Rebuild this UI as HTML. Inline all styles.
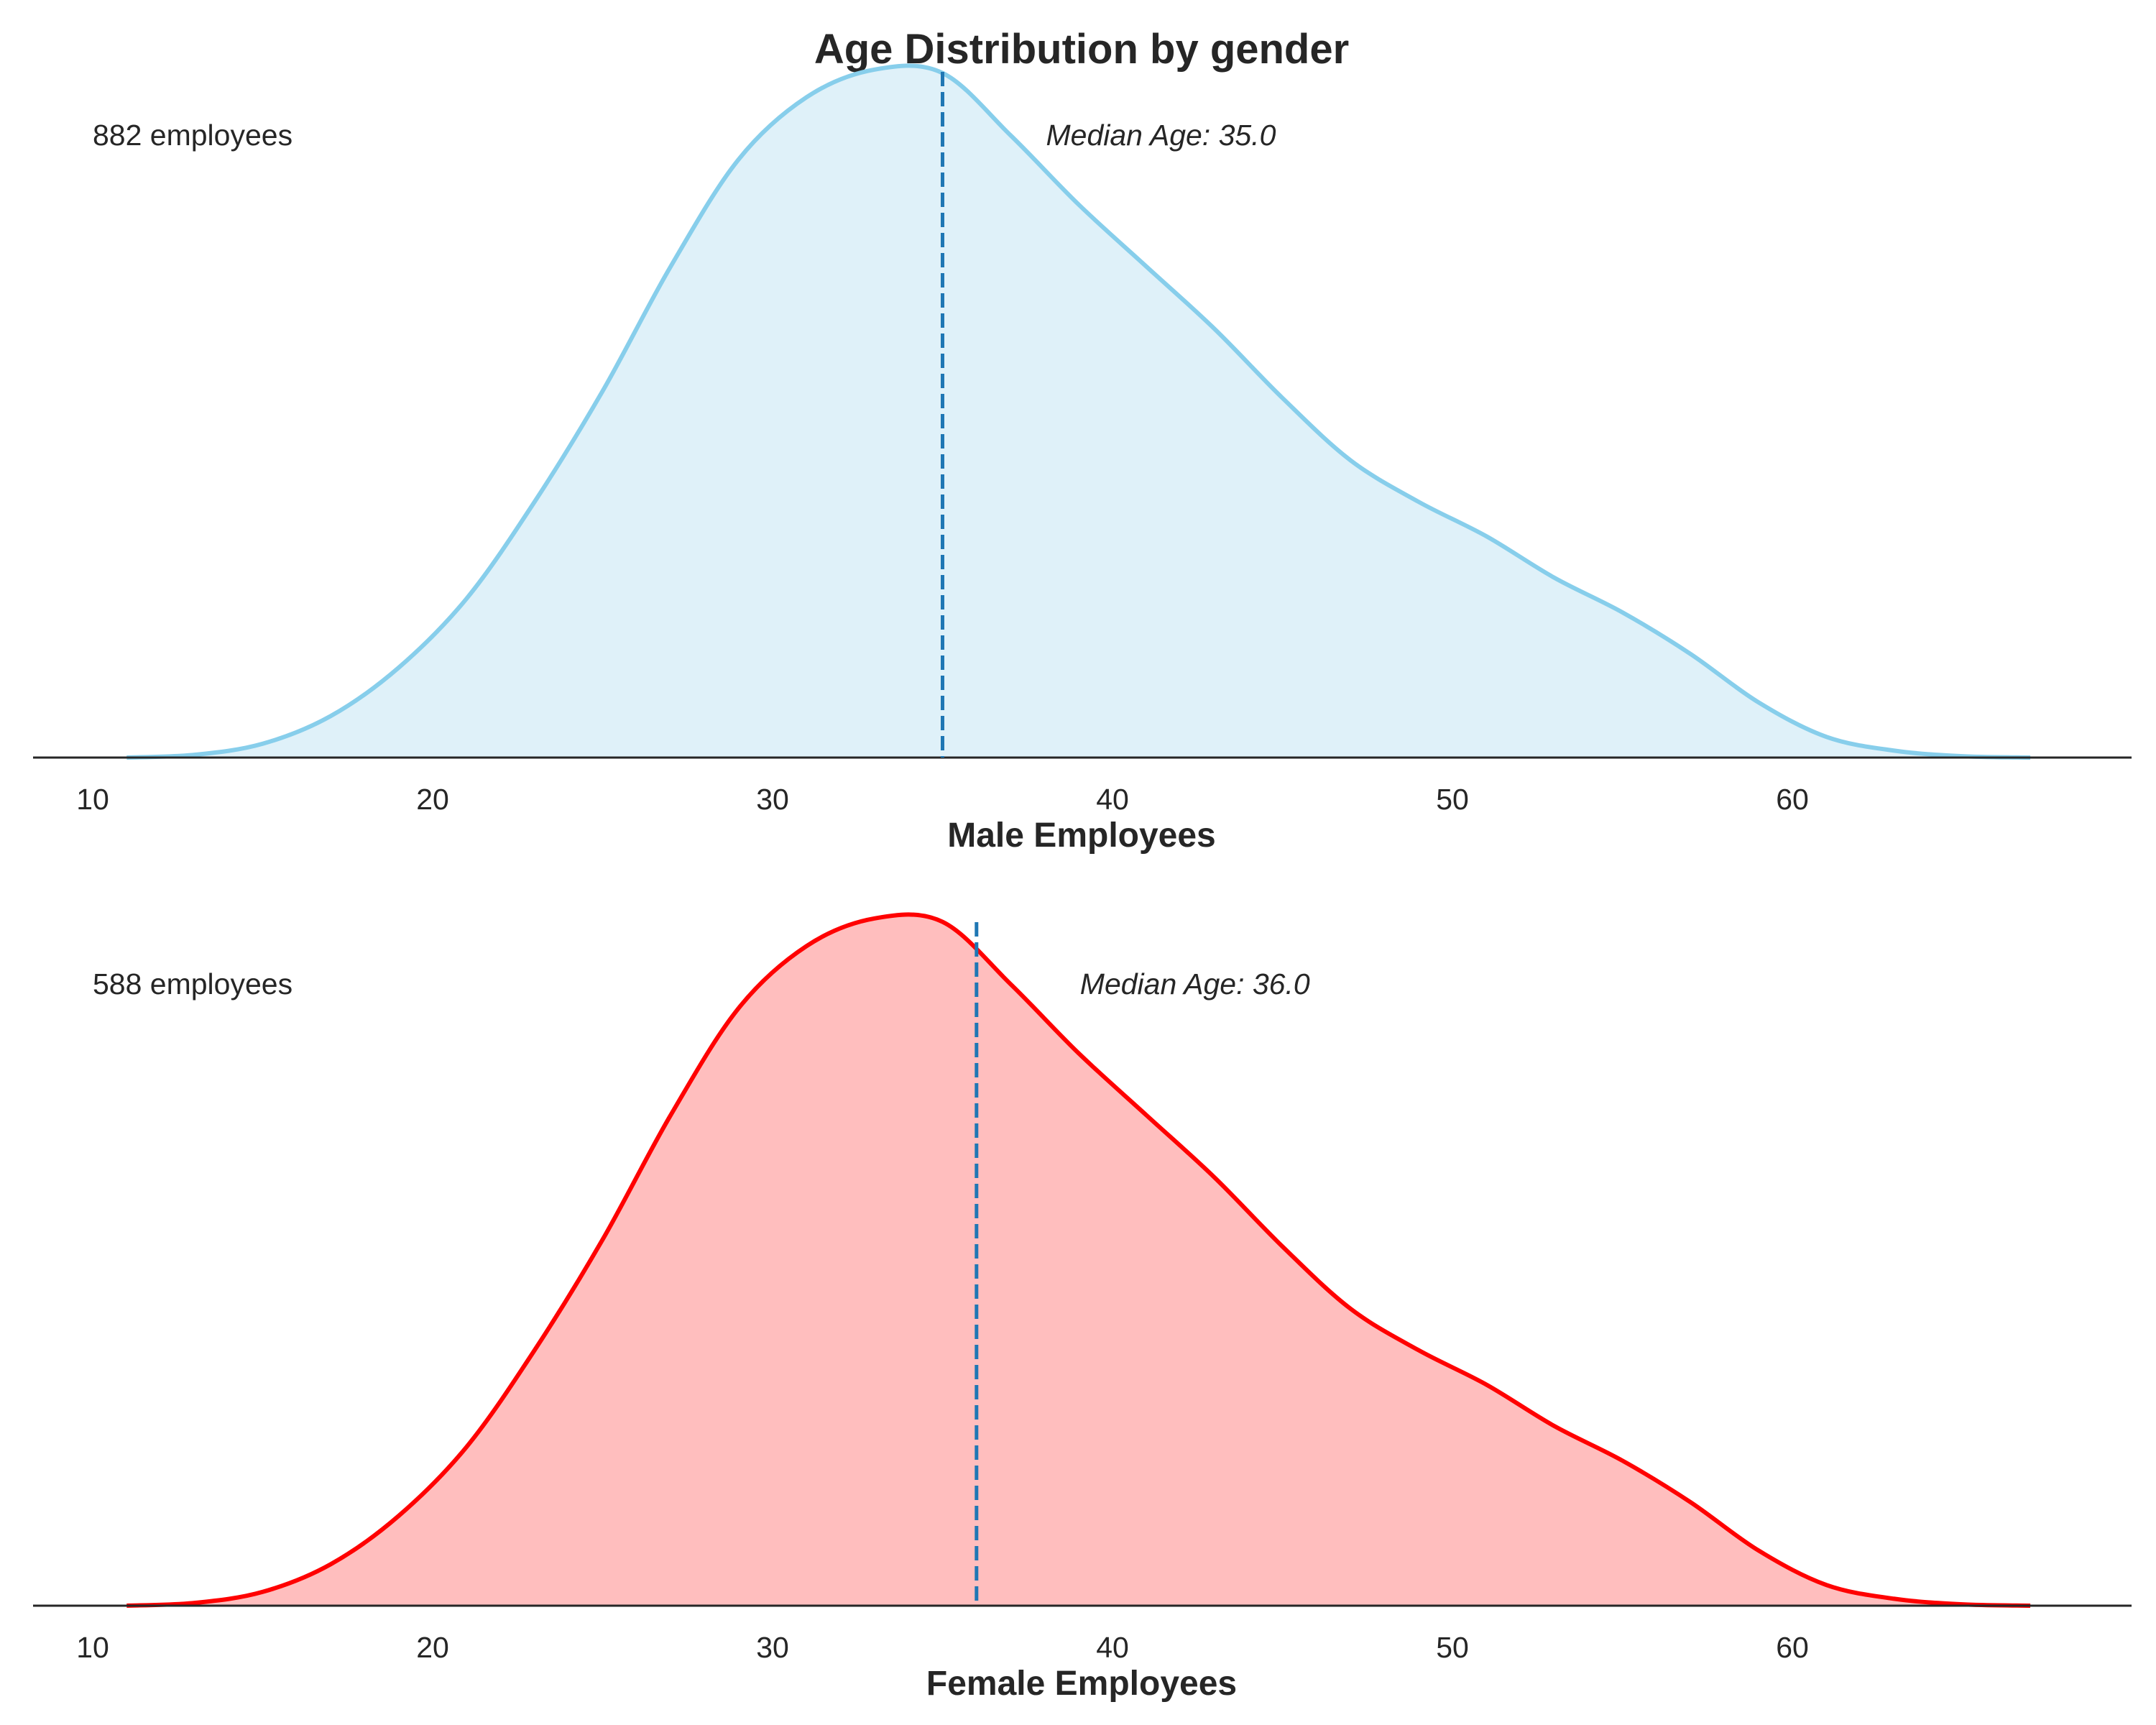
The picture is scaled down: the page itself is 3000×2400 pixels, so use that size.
<!DOCTYPE html>
<html><head><meta charset="utf-8">
<style>
html,body{margin:0;padding:0;background:#fff;}
svg{display:block;font-family:"Liberation Sans",Arial,sans-serif;}
</style></head>
<body>
<svg id="chart" width="3000" height="2400" viewBox="0 0 3000 2400">
<text x="1505" y="88" text-anchor="middle" font-size="58" font-weight="bold" fill="#262626">Age Distribution by gender</text>
<g id="panels"></g>
</svg>
<script>
const ages = [11,13,15,17,19,21,23,25,27,29,31,33,35,37,39,41,43,45,47,49,51,53,55,57,59,61,63,65,67];
const maleDensity = [0,0.004,0.02,0.06,0.13,0.23,0.37,0.53,0.71,0.865,0.955,0.995,0.99,0.9,0.8,0.71,0.62,0.52,0.43,0.37,0.32,0.26,0.21,0.15,0.08,0.03,0.01,0.002,0];
const femaleDensity = [0,0.004,0.02,0.06,0.13,0.23,0.37,0.53,0.71,0.865,0.955,0.995,0.99,0.9,0.8,0.71,0.62,0.52,0.43,0.37,0.32,0.26,0.21,0.15,0.08,0.03,0.01,0.002,0];
const xTicks = [10,20,30,40,50,60];
const medians = [35.0, 36.0];
const counts = [882, 588];
const panelNames = ["Male Employees","Female Employees"];

const NS="http://www.w3.org/2000/svg";
const xScale = a => 129 + (a-10)*47.3;
const panels=[
 {base:1054, peak:92, dashTop:100, stroke:"#87ceeb", fill:"#dff1f9", data:maleDensity, key:"male"},
 {base:2234, peak:1273, dashTop:1283, stroke:"#ff0000", fill:"#ffbebe", data:femaleDensity, key:"female"}
];
const root=document.getElementById('panels');
function mk(tag,attrs,parent){const e=document.createElementNS(NS,tag);for(const k in attrs)e.setAttribute(k,attrs[k]);(parent||root).appendChild(e);return e;}
panels.forEach((p,i)=>{
  const yScale = d => p.base - d*(p.base-p.peak);
  const pts = ages.map((a,j)=>[xScale(a), yScale(p.data[j])]);
  let d="M"+pts[0][0]+","+pts[0][1];
  for(let j=0;j<pts.length-1;j++){
    const p0=pts[Math.max(j-1,0)],p1=pts[j],p2=pts[j+1],p3=pts[Math.min(j+2,pts.length-1)];
    const c1=[p1[0]+(p2[0]-p0[0])/6,p1[1]+(p2[1]-p0[1])/6];
    const c2=[p2[0]-(p3[0]-p1[0])/6,p2[1]-(p3[1]-p1[1])/6];
    d+=` C${c1[0]},${c1[1]} ${c2[0]},${c2[1]} ${p2[0]},${p2[1]}`;
  }
  const area=mk('path',{d:d+` L${pts[pts.length-1][0]},${p.base} L${pts[0][0]},${p.base} Z`,fill:p.fill,stroke:'none'});
  
  
  const line=mk('path',{d:d,fill:'none',stroke:p.stroke,'stroke-width':6});
  
  
  const axis=mk('line',{x1:46,x2:2966,y1:p.base,y2:p.base,stroke:'#262626','stroke-width':3});
  
  
  const mx=xScale(medians[i]);
  const ml=mk('line',{x1:mx,x2:mx,y1:p.dashTop,y2:p.base,stroke:'#1f77b4','stroke-width':5,'stroke-dasharray':'20,8'});
  
  
  xTicks.forEach(t=>{
    const tx=mk('text',{x:xScale(t),y:p.base+72,'text-anchor':'middle','font-size':41,fill:'#262626'});
    tx.textContent=t;
    
    
  });
  const lab=mk('text',{x:1505,y:p.base+124,'text-anchor':'middle','font-size':48,'font-weight':'bold',fill:'#262626'});
  lab.textContent=panelNames[i];
  
  
  const cnt=mk('text',{x:129,y:p.peak+110,'font-size':41,fill:'#262626'});
  cnt.textContent=counts[i]+' employees';
  
  
  const med=mk('text',{x:mx+144,y:p.peak+110,'font-size':41,'font-style':'italic',fill:'#262626'});
  med.textContent='Median Age: '+medians[i].toFixed(1);
  
  
});
</script>
</body></html>
